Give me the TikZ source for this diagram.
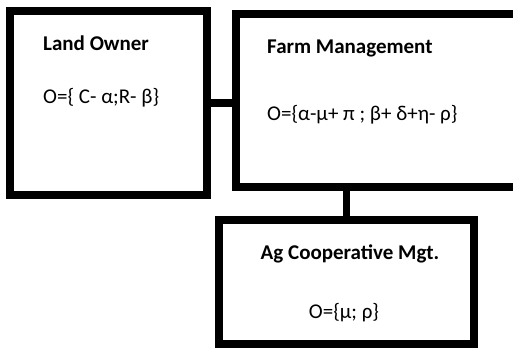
\documentclass[tikz,border=0pt]{standalone}
\usepackage{fontspec}
\setmainfont{Carlito}
\begin{document}
\begin{tikzpicture}[x=1pt,y=-1pt,
  box/.style={draw=black,line width=8pt,rectangle,outer sep=0pt,inner sep=0pt},
  link/.style={draw=black,line width=7.5pt},
  title/.style={font=\fontsize{21}{25}\selectfont\bfseries,anchor=base west,inner sep=0pt},
  formula/.style={font=\fontsize{21}{25}\selectfont,anchor=base west,inner sep=0pt}]
  \useasboundingbox (0,0) rectangle (513,349);
  \clip (0,0) rectangle (513,349);
  % the three organisational boxes
  \node[box,minimum width=196.5pt,minimum height=183.5pt] (lo) at (108.25,102.75) {};
  \node[box,minimum width=289.5pt,minimum height=173pt] (fm) at (380.25,100.5) {};
  \node[box,minimum width=255pt,minimum height=124.5pt] (ag) at (346.5,281.75) {};
  % connectors
  \draw[link] (lo.east) -- (lo.east -| fm.west);
  \draw[link] (ag.north) -- (ag.north |- fm.south);
  % labels
  \node[title] (lot) at (43,50) {Land Owner};
  \node[formula] (lof) at (43,103) {O=\{ C- α;R- β\}};
  \node[title] (fmt) at (267,53) {Farm Management};
  \node[formula] (fmf) at (267,120) {O=\{α-μ+ π ; β+ δ+η- ρ\}};
  \node[title,anchor=base] (agt) at (350,259) {Ag Cooperative Mgt.};
  \node[formula,anchor=base] (agf) at (344,318) {O=\{μ; ρ\}};
\end{tikzpicture}
\end{document}
